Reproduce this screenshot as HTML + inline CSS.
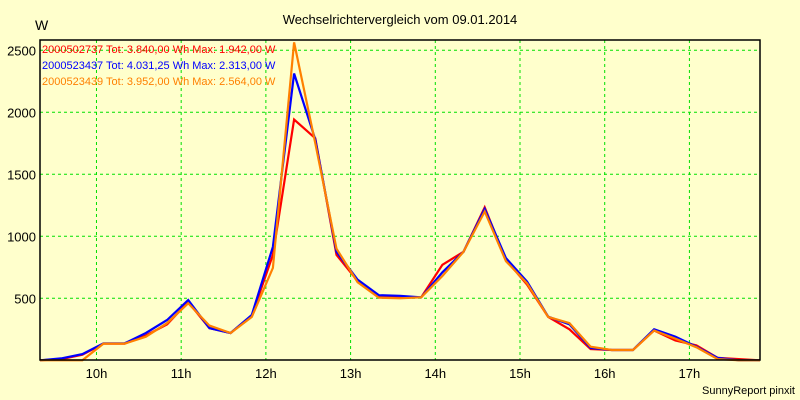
<!DOCTYPE html>
<html><head><meta charset="utf-8"><style>
body{margin:0;background:#FFFFCC;}
svg{display:block;font-family:"Liberation Sans",Arial,sans-serif;}
</style></head><body>
<svg id="chart" width="800" height="400" viewBox="0 0 800 400">
<rect x="0" y="0" width="800" height="400" fill="#FFFFCC"/>
<text x="400" y="24" text-anchor="middle" font-size="13" fill="#000">Wechselrichtervergleich vom 09.01.2014</text>
<text x="35" y="30" font-size="14" fill="#000">W</text>
<g id="grid"></g>
<g id="ylabels"></g>
<g id="xlabels"></g>
<g id="series"></g>
<rect x="40" y="40" width="720" height="320" fill="none" stroke="#000" stroke-width="1.5"/>
<g id="legend"></g>
<text x="795" y="394" text-anchor="end" font-size="11" fill="#000">SunnyReport pinxit</text>
</svg>
<script>
const hourTicks=[10,11,12,13,14,15,16,17];
const hourLabels=["10h","11h","12h","13h","14h","15h","16h","17h"];
const yTicks=[500,1000,1500,2000,2500];
const startHour=9+20/60, stepHours=0.25;
const redValues=[0,10,45,135,135,200,290,470,260,220,360,850,1942,1790,850,640,510,505,508,770,875,1233,810,610,350,250,90,83,83,240,160,120,20,10,0];
const blueValues=[0,15,50,137,137,220,325,486,260,220,365,915,2313,1780,875,650,525,520,508,710,875,1220,825,634,352,290,100,83,83,250,190,110,20,0,0];
const orangeValues=[0,0,0,135,135,190,300,460,280,220,350,745,2564,1750,900,630,505,500,508,680,875,1200,800,620,350,300,110,83,83,240,175,105,10,0,0];
const seriesNames=["2000502737 Tot: 3.840,00 Wh Max: 1.942,00 W","2000523437 Tot: 4.031,25 Wh Max: 2.313,00 W","2000523439 Tot: 3.952,00 Wh Max: 2.564,00 W"];
const seriesColors=["#FF0000","#0000FF","#FF8000"];
const NS="http://www.w3.org/2000/svg";
const X0=40,X1=760,Y0=360.3,PXW=0.124;
const tMin=startHour,tMax=startHour+34*stepHours;
function xScale(t){return X0+(t-tMin)/(tMax-tMin)*(X1-X0);}
function yScale(v){return Y0-v*PXW;}
const grid=document.getElementById('grid');
hourTicks.forEach((h,i)=>{
 const l=document.createElementNS(NS,'line');
 
 
 const x=xScale(h);
 l.setAttribute('x1',x);l.setAttribute('x2',x);l.setAttribute('y1',40);l.setAttribute('y2',360);
 l.setAttribute('stroke','#00E000');l.setAttribute('stroke-dasharray','3,3');
 grid.appendChild(l);
 const t=document.createElementNS(NS,'text');
 
 
 t.setAttribute('x',x);t.setAttribute('y',378);t.setAttribute('text-anchor','middle');t.setAttribute('font-size','13');
 t.textContent=hourLabels[i];
 document.getElementById('xlabels').appendChild(t);
});
yTicks.forEach(v=>{
 const y=yScale(v);
 const l=document.createElementNS(NS,'line');
 
 
 l.setAttribute('x1',40);l.setAttribute('x2',760);l.setAttribute('y1',y);l.setAttribute('y2',y);
 l.setAttribute('stroke','#00E000');l.setAttribute('stroke-dasharray','3,3');
 grid.appendChild(l);
 const t=document.createElementNS(NS,'text');
 
 
 t.setAttribute('x',36);t.setAttribute('y',y+5);t.setAttribute('text-anchor','end');t.setAttribute('font-size','13');
 t.textContent=String(v);
 document.getElementById('ylabels').appendChild(t);
});
const all=[redValues,blueValues,orangeValues];
all.forEach((vals,si)=>{
 const p=document.createElementNS(NS,'polyline');
 
 
 p.setAttribute('points',vals.map((v,k)=>xScale(startHour+k*stepHours).toFixed(1)+','+yScale(v).toFixed(1)).join(' '));
 p.setAttribute('fill','none');p.setAttribute('stroke',seriesColors[si]);p.setAttribute('stroke-width','2.2');
 document.getElementById('series').appendChild(p);
 const t=document.createElementNS(NS,'text');
 
 
 t.setAttribute('x',42);t.setAttribute('y',53+si*16);t.setAttribute('font-size','11');t.setAttribute('fill',seriesColors[si]);
 t.textContent=seriesNames[si];
 document.getElementById('legend').appendChild(t);
});
</script>
</body></html>
